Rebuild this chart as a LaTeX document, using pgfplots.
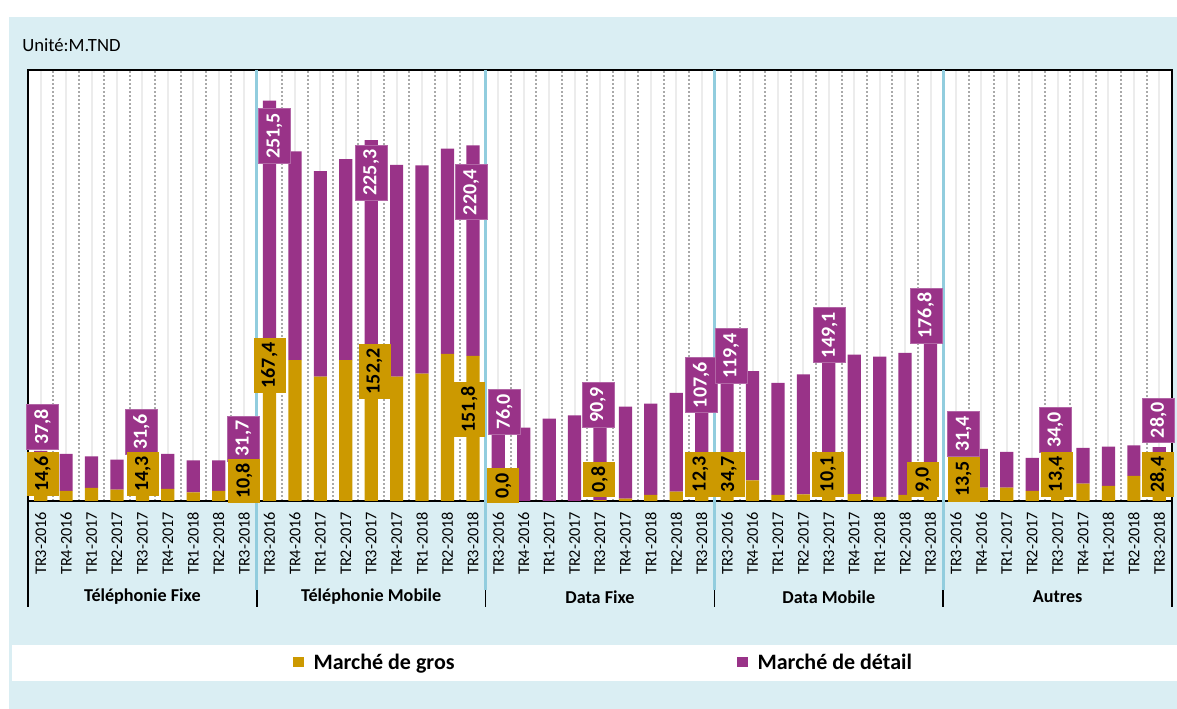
\documentclass[border=0pt]{standalone}
\usepackage{pgfplots}
\pgfplotsset{compat=1.18}
\usepackage{fontspec}
\setmainfont{Carlito}
\definecolor{gros}{RGB}{204,153,0}
\definecolor{detail}{RGB}{153,51,136}
\definecolor{panel}{RGB}{218,238,243}
\definecolor{sep}{RGB}{146,205,222}
\definecolor{gridd}{RGB}{170,170,170}
\definecolor{gridl}{RGB}{236,236,236}

\pgfplotstableread{
x gros detail
0 14.6 37.8
1 10.5 38.7
2 13.6 33.2
3 11.8 31.4
4 14.3 31.6
5 12.6 36.6
6 9.1 33.5
7 10.5 32.1
8 10.8 31.7
9 167.4 251.5
10 147.3 218.5
11 130.2 215.0
12 147.3 210.5
13 152.2 225.3
14 130.2 221.6
15 133.3 217.8
16 153.9 214.7
17 151.8 220.4
18 0.0 76.0
19 0.0 76.8
20 0.0 86.2
21 0.0 89.7
22 0.8 90.9
23 2.4 96.4
24 6.3 95.6
25 9.8 103.3
26 12.3 107.6
27 34.7 119.4
28 21.6 114.2
29 6.3 117.3
30 7.0 125.6
31 10.1 149.1
32 7.3 145.9
33 4.2 146.9
34 6.3 148.7
35 9.0 176.8
36 13.5 31.4
37 14.0 40.5
38 14.0 37.3
39 10.5 34.5
40 13.4 34.0
41 18.1 37.4
42 15.7 41.2
43 26.2 32.1
44 28.4 28.0
}\datatable

\pgfplotstableread{
x y l
0.070 77.4 37,8
3.965 72.5 31,6
7.977 65.4 31,7
9.196 382.1 251,5
13.0 343.7 225,3
16.934 323.1 220,4
18.244 93.3 76,0
21.914 100.7 90,9
25.981 121.2 107,6
27.161 151.9 119,4
31.036 173.5 149,1
34.816 194.1 176,8
36.307 70.3 31,4
39.918 74.1 34,0
43.958 84.5 28,0
}\detaillabels

\pgfplotstableread{
x y l
0.078 28.3 14,6
4.016 28.3 14,3
7.997 20.9 10,8
9.0 141.8 167,4
13.13 135.7 152,2
16.855 95.7 151,8
18.196 15.9 0,0
21.98 22.5 0,8
25.954 28.0 12,3
27.075 28.0 34,7
30.977 28.0 10,1
34.718 22.3 9,0
36.307 22.8 13,5
39.965 28.0 13,4
43.958 27.7 28,4
}\groslabels

\begin{document}
\begin{tikzpicture}
\useasboundingbox (0,0) rectangle (882.75pt,531.75pt);
\fill[white] (0,0) rectangle (882.75pt,531.75pt);
\fill[panel] (6.75pt,0) rectangle (882.75pt,519pt);
\fill[white] (9pt,21pt) rectangle (882.75pt,48pt);
\node[anchor=west, inner sep=0pt, font=\fontsize{14}{16}\selectfont] at (16.5pt,498pt) {Unité:M.TND};

\begin{axis}[
  at={(21pt,156pt)}, anchor=south west,
  scale only axis, width=858pt, height=323.25pt,
  xmin=-0.5, xmax=44.5, ymin=0, ymax=451,
  ybar stacked, bar width=0.52,
  axis background/.style={fill=white},
  axis line style={black, line width=1.1pt},
  xtick={0,...,44},
  xticklabels={TR3-2016,TR4-2016,TR1-2017,TR2-2017,TR3-2017,TR4-2017,TR1-2018,TR2-2018,TR3-2018,
               TR3-2016,TR4-2016,TR1-2017,TR2-2017,TR3-2017,TR4-2017,TR1-2018,TR2-2018,TR3-2018,
               TR3-2016,TR4-2016,TR1-2017,TR2-2017,TR3-2017,TR4-2017,TR1-2018,TR2-2018,TR3-2018,
               TR3-2016,TR4-2016,TR1-2017,TR2-2017,TR3-2017,TR4-2017,TR1-2018,TR2-2018,TR3-2018,
               TR3-2016,TR4-2016,TR1-2017,TR2-2017,TR3-2017,TR4-2017,TR1-2018,TR2-2018,TR3-2018},
  minor xtick={-0.5,0.5,...,44.5},
  ytick=\empty,
  major tick length=0pt, minor tick length=0pt,
  xmajorgrids, xminorgrids,
  major grid style={gridl, line width=1.5pt},
  minor grid style={gridd, line width=1.5pt, dash pattern=on 1.5pt off 1.5pt},
  xticklabel style={rotate=90, anchor=east, font=\fontsize{12.2}{14}\selectfont, inner sep=0pt, xshift=-8pt},
  legend columns=2,
  legend image code/.code={\fill[#1] (0pt,-3.75pt) rectangle (8.25pt,3.75pt);},
  legend style={at={(0.2316,-0.3747)}, anchor=west, draw=none, fill=none, inner sep=0pt,
    font=\bfseries\fontsize{16.5}{19}\selectfont,
    /tikz/every odd column/.append style={column sep=5pt},
    /tikz/every even column/.append style={column sep=210pt}},
  legend cell align=left,
]
\addplot[fill=gros, draw=none] table[x=x, y=gros] {\datatable};
\addlegendentry{Marché de gros}
\addplot[fill=detail, draw=none] table[x=x, y=detail] {\datatable};
\addlegendentry{Marché de détail}
\end{axis}

\begin{axis}[
  at={(21pt,156pt)}, anchor=south west,
  scale only axis, width=858pt, height=323.25pt,
  xmin=-0.5, xmax=44.5, ymin=0, ymax=451,
  hide axis, clip=false,
]
\addplot[only marks, mark=*, mark size=0pt, mark options={draw=none, fill=none},
  nodes near coords, point meta=explicit symbolic,
  every node near coord/.append style={rotate=90, anchor=center, fill=detail, text=white,
    draw=detail!75!white, line width=0.4pt,
    font=\bfseries\fontsize{15}{18}\selectfont, inner xsep=3.5pt, inner ysep=0pt, minimum height=24pt}]
  table[x=x, y=y, meta=l] {\detaillabels};
\addplot[only marks, mark=*, mark size=0pt, mark options={draw=none, fill=none},
  nodes near coords, point meta=explicit symbolic,
  every node near coord/.append style={rotate=90, anchor=center, fill=gros, text=black,
    font=\bfseries\fontsize{15}{18}\selectfont, inner xsep=3.5pt, inner ysep=0pt, minimum height=24pt}]
  table[x=x, y=y, meta=l] {\groslabels};
\pgfplotsinvokeforeach{-0.5,8.5,17.5,26.5,35.5,44.5}{
  \draw[black, line width=1.1pt] (axis cs:#1,0) -- ([yshift=-79.5pt]axis cs:#1,0);
}
\pgfplotsinvokeforeach{8.5,17.5,26.5,35.5}{
  \draw[sep, line width=2.25pt] (axis cs:#1,451) -- ([yshift=-66.75pt]axis cs:#1,0);
}
\node[font=\bfseries\fontsize{13.6}{16}\selectfont] at ([yshift=-72pt]axis cs:4,0) {Téléphonie Fixe};
\node[font=\bfseries\fontsize{13.6}{16}\selectfont] at ([yshift=-72pt]axis cs:13,0) {Téléphonie Mobile};
\node[font=\bfseries\fontsize{13.6}{16}\selectfont] at ([yshift=-72pt]axis cs:22,0) {Data Fixe};
\node[font=\bfseries\fontsize{13.6}{16}\selectfont] at ([yshift=-72pt]axis cs:31,0) {Data Mobile};
\node[font=\bfseries\fontsize{13.6}{16}\selectfont] at ([yshift=-72pt]axis cs:40,0) {Autres};
\end{axis}
\end{tikzpicture}
\end{document}
